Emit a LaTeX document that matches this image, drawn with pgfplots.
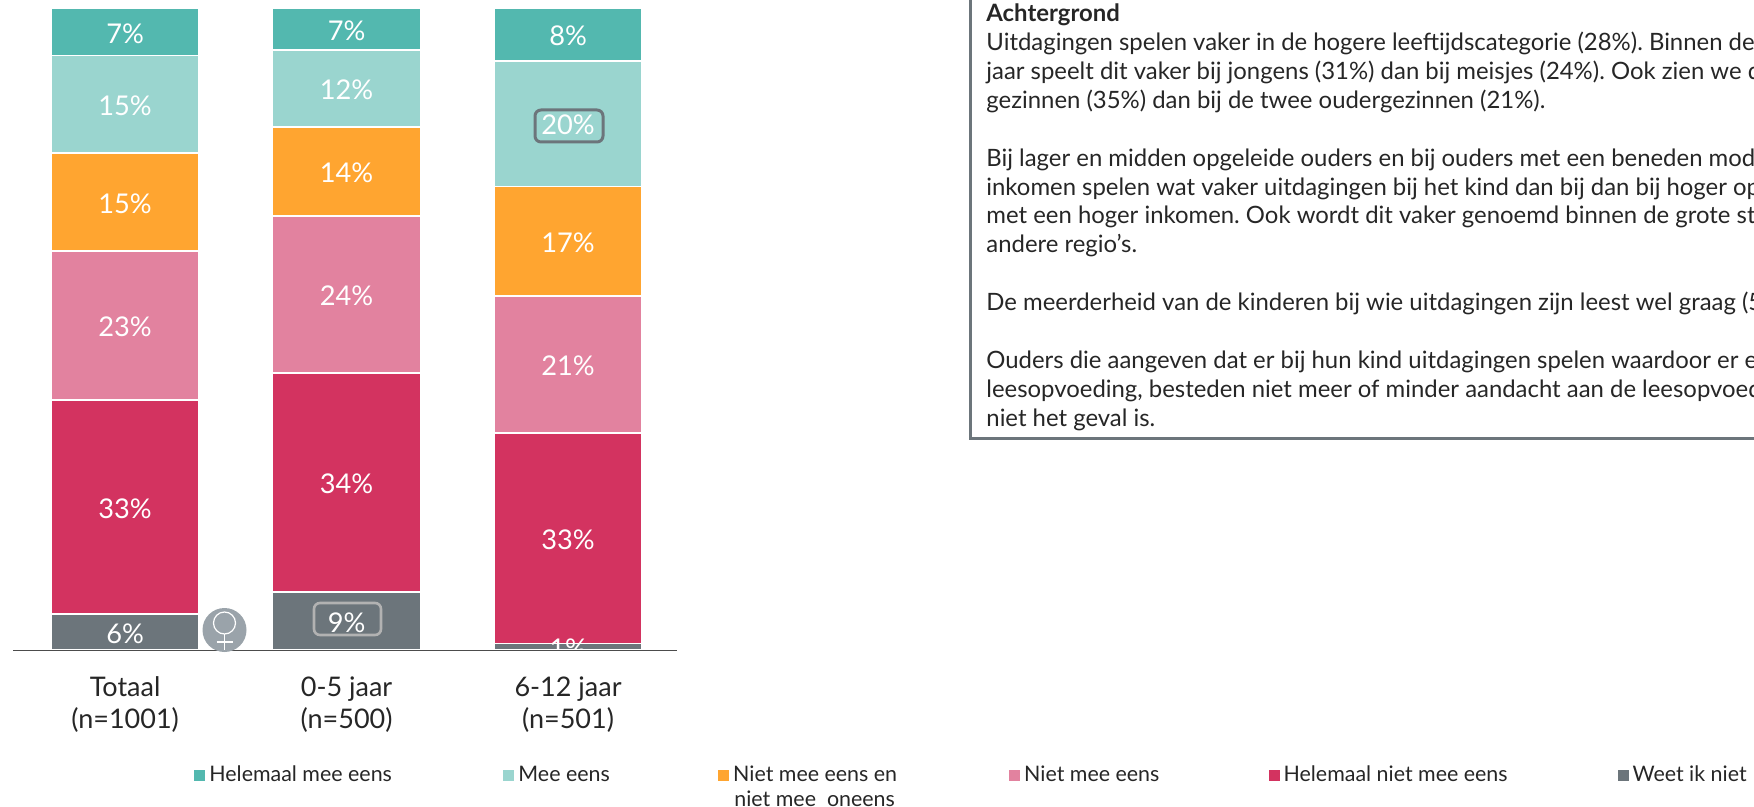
\documentclass[border=0pt]{standalone}
\usepackage{pgfplots}
\usepackage{fontspec}
\setmainfont{Lato}
\frenchspacing
\pgfplotsset{compat=1.18}
\definecolor{cA}{HTML}{53B8AF}
\definecolor{cB}{HTML}{9AD5CF}
\definecolor{cC}{HTML}{FFA530}
\definecolor{cD}{HTML}{E2829F}
\definecolor{cE}{HTML}{D33360}
\definecolor{cF}{HTML}{6C757B}
\definecolor{cG}{HTML}{9AA3AA}
\begin{document}
\begin{tikzpicture}[x=0.5pt,y=-0.5pt]
\path[use as bounding box] (0,0) rectangle (1754,807);
\clip (0,0) rectangle (1754,807);
\begin{axis}[
  at={(6.5pt,-325pt)}, anchor=south west,
  scale only axis, width=332pt, height=321pt,
  xmin=-0.506, xmax=2.492, ymin=0, ymax=100,
  axis y line=none, axis x line=bottom,
  axis line style={-, draw=black!70, line width=0.5pt},
  xtick={0,1,2}, major tick length=0pt,
  xticklabels={{Totaal\\(n=1001)},{0-5 jaar\\(n=500)},{6-12 jaar\\(n=501)}},
  xticklabel style={align=center, font=\fontsize{13.5pt}{16pt}\selectfont, text=black!85, yshift=-10pt},
  ybar stacked, bar width=74pt,
  every axis plot/.append style={draw=white, line width=0.9pt},
  nodes near coords={\pgfmathprintnumber[fixed,precision=0,assume math mode=true]{\pgfplotspointmeta}\%},
  every node near coord/.style={text=white, font=\fontsize{13.6pt}{14pt}\selectfont, anchor=center, yshift=-0.8pt},
  clip=false,
  reverse legend,
  legend columns=6,
  legend style={at={(90.5pt,-55.6pt)}, anchor=north west, draw=none, fill=none, inner sep=0pt,
     font=\fontsize{10.7pt}{12pt}\selectfont, text=black!85, /tikz/every even column/.append style={column sep=0pt}},
  legend image code/.code={\fill[#1,draw=none] (0pt,-2.8pt) rectangle (5.5pt,2.7pt);},
]
\addplot[fill=cF] coordinates {(0,5.6) (1,9.0) (2,1.0)};
\addplot[fill=cE] coordinates {(0,33.4) (1,34.2) (2,32.8)};
\addplot[fill=cD] coordinates {(0,23.2) (1,24.4) (2,21.4)};
\addplot[fill=cC] coordinates {(0,15.2) (1,13.9) (2,17.0)};
\addplot[fill=cB] coordinates {(0,15.2) (1,11.9) (2,19.6)};
\addplot[fill=cA] coordinates {(0,7.4) (1,6.6) (2,8.2)};
\legend{\makebox[72pt][l]{Weet ik niet},
  \makebox[165pt][l]{Helemaal niet mee eens},
  \makebox[120.2pt][l]{Niet mee eens},
  \makebox[136pt][l]{\smash{\rlap{\raisebox{-12.6pt}{\hspace{0.6pt}niet mee\ \ oneens}}}Niet mee eens en},
  \makebox[97.9pt][l]{Mee eens},
  \makebox[145pt][l]{Helemaal mee eens}}
\end{axis}
\fill[white] (0,651) rectangle (700,668);
\draw[black!70, line width=0.5pt] (13,650) -- (677,650);
\draw[cF, line width=1.5pt, rounded corners=3pt] (535,110) rectangle (603,142);
\draw[black!30, line width=1.3pt, rounded corners=3pt] (314,603) rectangle (381,635);
\fill[cG] (224.5,630) circle (22);
\draw[white, line width=0.6pt] (224.5,623) circle (11);
\draw[white, line width=0.6pt] (224.5,634) -- (224.5,650) (216.5,642) -- (232.5,642);
\draw[cF, line width=1.5pt] (970,-10) rectangle (1800,438);
\node[anchor=base west, inner sep=0pt, align=left, text=black!85,
  font=\fontsize{11.95pt}{14.43pt}\selectfont] at (986,426) {%
\textbf{Achtergrond}\\
Uitdagingen spelen vaker in de hogere leeftijdscategorie (28\%). Binnen de\\
jaar speelt dit vaker bij jongens (31\%) dan bij meisjes (24\%). Ook zien we d\\
gezinnen (35\%) dan bij de twee oudergezinnen (21\%).\\[14.43pt]
Bij lager en midden opgeleide ouders en bij ouders met een beneden mod\\
inkomen spelen wat vaker uitdagingen bij het kind dan bij dan bij hoger op\\
met een hoger inkomen. Ook wordt dit vaker genoemd binnen de grote st\\
andere regio’s.\\[14.43pt]
De meerderheid van de kinderen bij wie uitdagingen zijn leest wel graag (5\\[14.43pt]
Ouders die aangeven dat er bij hun kind uitdagingen spelen waardoor er e\\
leesopvoeding, besteden niet meer of minder aandacht aan de leesopvoed\\
niet het geval is.};
\end{tikzpicture}
\end{document}
